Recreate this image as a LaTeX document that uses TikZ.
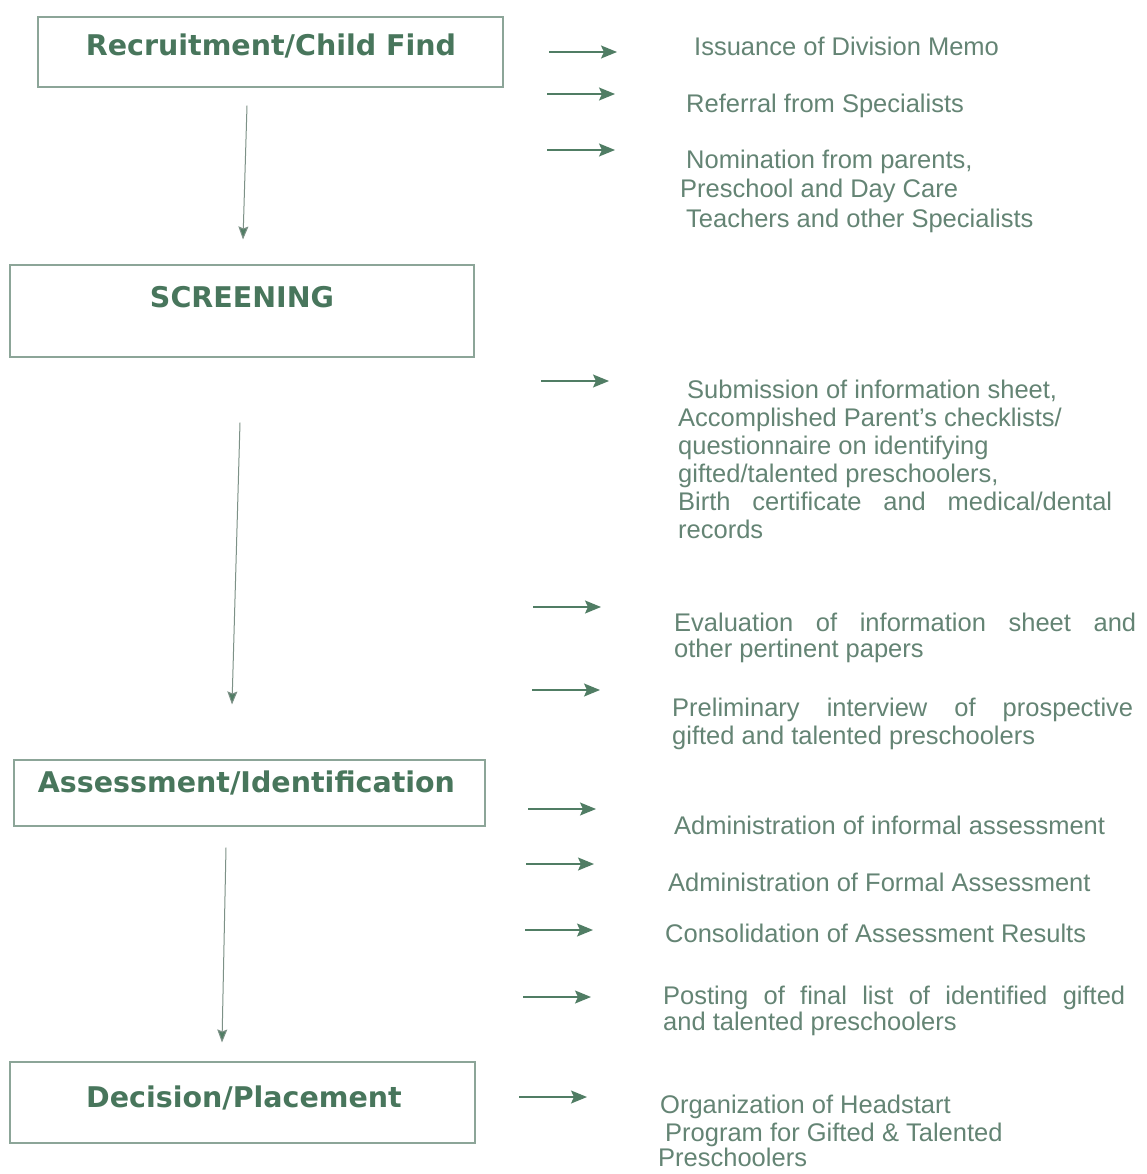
\documentclass[tikz,border=0pt]{standalone}
\usepackage{fontspec}
\setmainfont{Liberation Sans}
\newfontfamily\titlefont{DejaVu Sans}
\usetikzlibrary{arrows.meta,calc}
\definecolor{titlec}{RGB}{72,118,92}
\definecolor{bodyc}{RGB}{100,132,116}
\definecolor{boxc}{RGB}{140,165,152}
\definecolor{arrc}{RGB}{80,125,100}
\definecolor{varrc}{RGB}{125,145,135}
\begin{document}
\begin{tikzpicture}[x=1pt,y=-1pt,
  box/.style={draw=boxc, line width=1.1pt, inner sep=0pt},
  title/.style={anchor=base, inner sep=0pt, text=titlec, font=\titlefont\bfseries\fontsize{28.5}{30}\selectfont},
  body/.style={anchor=base west, inner sep=0pt, text=bodyc, font=\fontsize{25.5}{28}\selectfont},
  harr/.style={draw=arrc, line width=1.5pt, -{Stealth[length=16pt,width=13pt,inset=3pt]}},
  varr/.style={draw=varrc, line width=1pt, -{Stealth[length=13pt,width=10pt,inset=2pt,fill=arrc]}}]
\fill[white] (0,0) rectangle (1147,1174);
\useasboundingbox (0,0) rectangle (1147,1174);

% stage boxes
\node[box, minimum width=465pt, minimum height=70pt] (rec) at (270.5,52) {};
\node[title] (rect) at (271,56) {Recruitment/Child Find};
\node[box, minimum width=464pt, minimum height=92pt] (scr) at (242,311) {};
\node[title] (scrt) at (242,307) {SCREENING};
\node[box, minimum width=471pt, minimum height=66pt] (ass) at (249.5,793) {};
\node[title] (asst) at (246.5,792) {Assessment/Identification};
\node[box, minimum width=465pt, minimum height=81pt] (dec) at (242.5,1102.5) {};
\node[title] (dect) at (244,1107) {Decision/Placement};

% vertical arrows
\draw[varr] ($(rec.south)+(-23.5,18)$) -- ($(scr.north)+(1,-25)$);
\draw[varr] ($(scr.south)+(-2,65)$) -- ($(ass.north)+(-17.5,-55)$);
\draw[varr] ($(ass.south)+(-23.5,21)$) -- ($(dec.north)+(-20.5,-19)$);

% horizontal arrows
\coordinate (h1) at (549,52);
\coordinate (h2) at (547,94);
\coordinate (h3) at (547,150);
\coordinate (h4) at (541,381);
\coordinate (h5) at (533,607);
\coordinate (h6) at (532,690);
\coordinate (h7) at (528,809);
\coordinate (h8) at (526,864);
\coordinate (h9) at (525,930);
\coordinate (h10) at (523,997);
\coordinate (h11) at (519,1097);
\foreach \h in {h1,h2,h3,h4,h5,h6,h7,h8,h9,h10,h11}
  \draw[harr] (\h) -- ++(68,0);

% texts
\node[body] (t1) at (694,56) {Issuance of Division Memo};
\node[body] (t2) at (686,113) {Referral from Specialists};
\node[body] (t3a) at (686,169) {Nomination from parents,};
\node[body] (t3b) at (680,198) {Preschool and Day Care};
\node[body] (t3c) at (686,228) {Teachers and other Specialists};

\node[body] (t4a) at (687,398) {Submission of information sheet,};
\node[body] (t4b) at (678,426) {Accomplished Parent’s checklists/};
\node[body] (t4c) at (678,454) {questionnaire on identifying};
\node[body] (t4d) at (678,482) {gifted/talented preschoolers,};
\node[body] (t4e) at (678,510) {\makebox[434pt][s]{Birth certificate and medical/dental}};
\node[body] (t4f) at (678,538) {records};

\node[body] (t5a) at (674,631) {\makebox[462pt][s]{Evaluation of information sheet and}};
\node[body] (t5b) at (674,657) {other pertinent papers};

\node[body] (t6a) at (672,716) {\makebox[461pt][s]{Preliminary interview of prospective}};
\node[body] (t6b) at (672,744) {gifted and talented preschoolers};

\node[body] (t7) at (674,834) {Administration of informal assessment};
\node[body] (t8) at (668,891) {Administration of Formal Assessment};
\node[body] (t9) at (665,942) {Consolidation of Assessment Results};

\node[body] (t10a) at (663,1004) {\makebox[462pt][s]{Posting of final list of identified gifted}};
\node[body] (t10b) at (663,1030) {and talented preschoolers};

\node[body] (t11a) at (660,1113) {Organization of Headstart};
\node[body] (t11b) at (665,1141) {Program for Gifted \& Talented};
\node[body] (t11c) at (658,1166) {Preschoolers};
\end{tikzpicture}
\end{document}
